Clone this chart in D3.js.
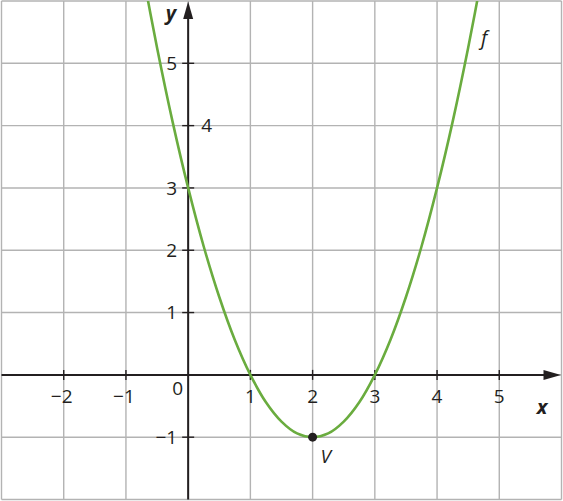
<!DOCTYPE html>
<html>
<head>
<meta charset="utf-8">
<script src="https://cdn.jsdelivr.net/npm/d3@7"></script>
<style>
  html, body { margin: 0; padding: 0; background: #fff; }
  svg { display: block; }
  text { font-family: "Open Sans", "Noto Sans", sans-serif; fill: #231f20; }
</style>
</head>
<body>
<div id="chart"></div>
<script>
const curveX = [-0.75, -0.5, -0.25, 0, 0.25, 0.5, 0.75, 1, 1.25, 1.5, 1.75, 2,
  2.25, 2.5, 2.75, 3, 3.25, 3.5, 3.75, 4, 4.25, 4.5, 4.75];
const curveY = [6.56, 5.25, 4.06, 3, 2.06, 1.25, 0.56, 0, -0.44, -0.75, -0.94, -1,
  -0.94, -0.75, -0.44, 0, 0.56, 1.25, 2.06, 3, 4.06, 5.25, 6.56];
const vertex = [2, -1];

const xTickValues = [-2, -1, 1, 2, 3, 4, 5];
const xTickLabels = ["\u22122", "\u22121", "1", "2", "3", "4", "5"];
const yTickValues = [-1, 1, 2, 3, 4, 5];
const yTickLabels = ["\u22121", "1", "2", "3", "4", "5"];
const gridX = d3.range(-3, 7);
const gridY = d3.range(-2, 7);

const width = 563, height = 501;

const x = d3.scaleLinear().domain([-3, 6]).range([1.5, 561.5]);
const y = d3.scaleLinear().domain([-2, 6]).range([499.5, 1]);

const svg = d3
  .select("#chart")
  .append("svg")
  .attr("width", width)
  .attr("height", height);

svg.append("defs")
  .append("clipPath")
  .attr("id", "plotClip")
  .append("rect")
  .attr("x", x(-3))
  .attr("y", y(6))
  .attr("width", x(6) - x(-3))
  .attr("height", y(-2) - y(6));

// grid
const grid = svg.append("g").attr("stroke", "#b3b3b3").attr("stroke-width", 1.4);
grid.selectAll("line.gx")
  .data(gridX)
  .join("line")
  .attr("x1", (d) => x(d)).attr("x2", (d) => x(d))
  .attr("y1", y(6)).attr("y2", y(-2));
grid.selectAll("line.gy")
  .data(gridY)
  .join("line")
  .attr("x1", x(-3)).attr("x2", x(6))
  .attr("y1", (d) => y(d)).attr("y2", (d) => y(d));

// axes
const axisColor = "#231f20";
svg.append("line")
  .attr("x1", x(-3)).attr("x2", x(6) - 14)
  .attr("y1", y(0)).attr("y2", y(0))
  .attr("stroke", axisColor).attr("stroke-width", 2);
svg.append("path")
  .attr("d", `M${x(6) - 0.5},${y(0)} L${x(6) - 18},${y(0) - 5} L${x(6) - 18},${y(0) + 5} Z`)
  .attr("fill", axisColor);

svg.append("line")
  .attr("x1", x(0)).attr("x2", x(0))
  .attr("y1", y(-2)).attr("y2", y(6) + 14)
  .attr("stroke", axisColor).attr("stroke-width", 2);
svg.append("path")
  .attr("d", `M${x(0)},${y(6) + 0.5} L${x(0) - 5},${y(6) + 18} L${x(0) + 5},${y(6) + 18} Z`)
  .attr("fill", axisColor);

// ticks
svg.selectAll("line.xt")
  .data(xTickValues)
  .join("line")
  .attr("x1", (d) => x(d)).attr("x2", (d) => x(d))
  .attr("y1", y(0) - 5).attr("y2", y(0) + 5)
  .attr("stroke", axisColor).attr("stroke-width", 1.4);
svg.selectAll("line.yt")
  .data(yTickValues)
  .join("line")
  .attr("x1", x(0) - 6).attr("x2", x(0) + 6)
  .attr("y1", (d) => y(d)).attr("y2", (d) => y(d))
  .attr("stroke", axisColor).attr("stroke-width", 1.4);

// tick labels
svg.selectAll("text.xl")
  .data(xTickValues)
  .join("text")
  .attr("x", (d) => x(d) + (d < 0 ? -2 : 0))
  .attr("y", y(0) + 28)
  .attr("text-anchor", "middle")
  .style("font-size", "19px")
  .text((d, i) => xTickLabels[i]);

svg.selectAll("text.yl")
  .data(yTickValues)
  .join("text")
  .attr("x", (d) => (d === 4 ? x(0) + 13 : x(0) - 11))
  .attr("y", (d) => y(d))
  .attr("dy", "0.35em")
  .attr("text-anchor", (d) => (d === 4 ? "start" : "end"))
  .style("font-size", "19px")
  .text((d, i) => yTickLabels[i]);

svg.append("text")
  .attr("x", x(0) - 5)
  .attr("y", y(0) + 20)
  .attr("text-anchor", "end")
  .style("font-size", "19px")
  .text("0");

// axis names
svg.append("text")
  .attr("x", 542).attr("y", 414)
  .attr("text-anchor", "middle")
  .style("font-size", "20px")
  .style("font-weight", "bold")
  .style("font-style", "italic")
  .text("x");
svg.append("text")
  .attr("x", 171).attr("y", 20)
  .attr("text-anchor", "middle")
  .style("font-size", "20px")
  .style("font-weight", "bold")
  .style("font-style", "italic")
  .text("y");

// curve
const pts = curveX.map((d, i) => [d, curveY[i]]);
const line = d3.line()
  .x((d) => x(d[0]))
  .y((d) => y(d[1]))
  .curve(d3.curveCatmullRom);
svg.append("path")
  .attr("d", line(pts))
  .attr("clip-path", "url(#plotClip)")
  .attr("fill", "none")
  .attr("stroke", "#6aac3f")
  .attr("stroke-width", 2.6);

// vertex
svg.append("circle")
  .attr("cx", x(vertex[0]))
  .attr("cy", y(vertex[1]))
  .attr("r", 4.5)
  .attr("fill", "#231f20");

svg.append("text")
  .attr("x", x(vertex[0]) + 13)
  .attr("y", y(vertex[1]) + 26)
  .attr("text-anchor", "middle")
  .style("font-size", "19px")
  .style("font-style", "italic")
  .text("V");

svg.append("text")
  .attr("x", 484)
  .attr("y", 45)
  .attr("text-anchor", "middle")
  .style("font-size", "20px")
  .style("font-style", "italic")
  .text("f");
</script>
</body>
</html>
